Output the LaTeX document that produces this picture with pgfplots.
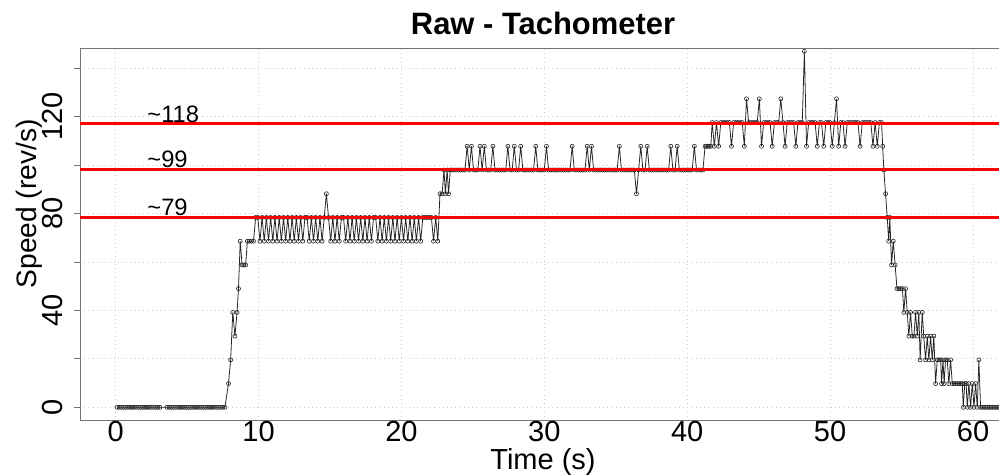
\documentclass[border=0pt]{standalone}
\usepackage{fontspec}
\setmainfont{Liberation Sans}
\usepackage{pgfplots}
\pgfplotsset{compat=1.18}
\newcommand{\fs}[1]{\fontsize{#1}{#1}\selectfont}
\begin{document}
\begin{tikzpicture}
\begin{axis}[
  scale only axis, width=19.088cm, height=7.448cm,
  xmin=-2.49, xmax=64.3, ymin=-5.53, ymax=148.26,
  axis line style={draw=black!55, line width=0.5pt},
  xtick={0,10,20,30,40,50,60}, xticklabels={0,10,20,30,40,50,60},
  ytick={0,20,40,60,80,100,120,140}, yticklabels={0,,40,,80,,120,},
  tick align=outside, major tick length=0.12cm,
  xtick style={draw=none}, ytick style={draw=black!55, line width=0.5pt},
  xtick pos=bottom, ytick pos=left,
  xticklabel style={font=\fs{16.5}, anchor=north, inner sep=0pt, yshift=0.11cm},
  yticklabel style={font=\fs{16.5}, rotate=90, anchor=south, inner sep=0pt, outer sep=0.22cm},
  grid=major, major grid style={dotted, black!20, line width=0.5pt},
  clip mode=individual,
  /pgf/number format/assume math mode=true,
]
\addplot[black!85, line width=0.45pt, mark=o, mark size=1.15pt, mark options={line width=0.35pt}] coordinates {
(0.1,0)(0.25,0)(0.4,0)(0.55,0)(0.7,0)(0.85,0)(1.0,0)(1.15,0)(1.3,0)(1.45,0)(1.6,0)(1.75,0)(1.9,0)(2.05,0)(2.2,0)(2.35,0)(2.5,0)(2.65,0)(2.8,0)(2.95,0)(3.1,0)
(3.6,0)(3.75,0)(3.9,0)(4.05,0)(4.2,0)(4.35,0)(4.5,0)(4.65,0)(4.8,0)(4.95,0)(5.1,0)(5.25,0)(5.4,0)(5.55,0)(5.7,0)(5.85,0)(6.0,0)(6.15,0)(6.3,0)(6.45,0)(6.6,0)(6.75,0)(6.9,0)(7.05,0)(7.2,0)(7.35,0)(7.5,0)(7.65,0)
(7.9,9.8)(8.05,19.6)(8.2,39.2)(8.35,29.4)(8.5,39.2)(8.6,49.0)(8.72,68.6)(8.85,58.8)(8.97,58.8)(9.1,58.8)(9.22,68.6)(9.35,68.6)(9.5,68.6)(9.65,68.6)(9.8,78.4)
(9.95,78.4)(10.1,68.6)(10.25,78.4)(10.4,68.6)(10.55,78.4)(10.7,68.6)(10.85,78.4)(11.0,68.6)(11.15,78.4)(11.3,68.6)(11.45,78.4)(11.6,68.6)(11.75,78.4)(11.9,68.6)(12.05,78.4)(12.2,68.6)(12.35,78.4)(12.5,68.6)(12.65,78.4)(12.8,68.6)(12.95,78.4)(13.1,68.6)(13.25,78.4)(13.4,78.4)(13.55,68.6)(13.7,78.4)(13.85,68.6)(14.0,78.4)(14.15,68.6)(14.3,78.4)(14.45,68.6)(14.6,78.4)(14.75,88.2)(14.9,78.4)(15.05,68.6)(15.2,78.4)(15.35,68.6)(15.5,78.4)(15.65,68.6)(15.8,78.4)(15.95,78.4)(16.1,68.6)(16.25,78.4)(16.4,68.6)(16.55,78.4)(16.7,68.6)(16.85,78.4)(17.0,68.6)(17.15,78.4)(17.3,68.6)(17.45,78.4)(17.6,68.6)(17.75,78.4)(17.9,68.6)(18.05,78.4)(18.2,78.4)(18.35,68.6)(18.5,78.4)(18.65,68.6)(18.8,78.4)(18.95,68.6)(19.1,78.4)(19.25,68.6)(19.4,78.4)(19.55,68.6)(19.7,78.4)(19.85,68.6)(20.0,78.4)(20.15,68.6)(20.3,78.4)(20.45,68.6)(20.6,78.4)(20.75,68.6)(20.9,78.4)(21.05,68.6)(21.2,78.4)(21.35,68.6)(21.5,78.4)(21.65,78.4)(21.8,78.4)(21.95,78.4)(22.1,78.4)(22.25,68.6)(22.4,78.4)(22.55,68.6)
(22.7,88.2)(22.85,88.2)(22.98,98.0)(23.08,88.2)(23.2,98.0)(23.3,88.2)(23.42,98.0)
(23.55,98)(23.7,98)(23.85,98)(24.0,98)(24.15,98)(24.3,98)(24.45,98)(24.6,107.8)(24.75,98)(24.9,107.8)(25.05,98)(25.2,98)(25.35,98)(25.5,107.8)(25.65,98)(25.8,107.8)(25.95,98)(26.1,98)(26.25,98)(26.4,107.8)(26.55,98)(26.7,98)(26.85,98)(27.0,98)(27.15,98)(27.3,98)(27.45,107.8)(27.6,98)(27.75,98)(27.9,107.8)(28.05,98)(28.2,98)(28.35,107.8)(28.5,98)(28.65,98)(28.8,98)(28.95,98)(29.1,98)(29.25,98)(29.4,107.8)(29.55,98)(29.7,98)(29.85,98)(30.0,98)(30.15,107.8)(30.3,98)(30.45,98)(30.6,98)(30.75,98)(30.9,98)(31.05,98)(31.2,98)(31.35,98)(31.5,98)(31.65,98)(31.8,98)(31.95,107.8)(32.1,98)(32.25,98)(32.4,98)(32.55,98)(32.7,98)(32.85,98)(33.0,107.8)(33.15,98)(33.3,107.8)(33.45,98)(33.6,98)(33.75,98)(33.9,98)(34.05,98)(34.2,98)(34.35,98)(34.5,98)(34.65,98)(34.8,98)(34.95,98)(35.1,98)(35.25,107.8)(35.4,98)(35.55,98)(35.7,98)(35.85,98)(36.0,98)(36.15,98)(36.3,98)(36.45,88.2)(36.6,98)(36.75,107.8)(36.9,98)(37.05,98)(37.2,107.8)(37.35,98)(37.5,98)(37.65,98)(37.8,98)(37.95,98)(38.1,98)(38.25,98)(38.4,98)(38.55,98)(38.7,98)(38.85,107.8)(39.0,98)(39.15,98)(39.3,107.8)(39.45,98)(39.6,98)(39.75,98)(39.9,98)(40.05,98)(40.2,98)(40.35,98)(40.5,107.8)(40.65,98)(40.8,98)(40.95,98)(41.1,98)
(41.25,107.8)(41.35,107.8)(41.45,107.8)(41.55,107.8)(41.65,107.8)
(41.75,117.6)(41.9,107.8)(42.05,117.6)(42.2,107.8)(42.35,117.6)(42.5,117.6)(42.65,117.6)(42.8,117.6)(42.95,117.6)(43.1,107.8)(43.25,117.6)(43.4,117.6)(43.55,117.6)(43.7,117.6)(43.85,117.6)(44.0,107.8)(44.15,127.4)(44.3,117.6)(44.45,117.6)(44.6,117.6)(44.75,117.6)(44.9,117.6)(45.05,127.4)(45.2,107.8)(45.35,117.6)(45.5,117.6)(45.65,117.6)(45.8,117.6)(45.95,107.8)(46.1,117.6)(46.25,117.6)(46.4,117.6)(46.55,127.4)(46.7,117.6)(46.85,107.8)(47.0,117.6)(47.15,117.6)(47.3,117.6)(47.45,117.6)(47.6,107.8)(47.75,117.6)(47.9,117.6)(48.05,117.6)(48.2,147.0)(48.35,107.8)(48.5,117.6)(48.65,117.6)(48.8,117.6)(48.95,117.6)(49.1,107.8)(49.25,117.6)(49.4,117.6)(49.55,107.8)(49.7,117.6)(49.85,117.6)(50.0,117.6)(50.15,107.8)(50.3,117.6)(50.45,127.4)(50.6,107.8)(50.75,117.6)(50.9,117.6)(51.05,107.8)(51.2,117.6)(51.35,117.6)(51.5,117.6)(51.65,117.6)(51.8,117.6)(51.95,117.6)(52.1,107.8)(52.25,117.6)(52.4,117.6)(52.55,117.6)(52.7,117.6)(52.85,117.6)(53.0,107.8)(53.15,117.6)(53.3,107.8)(53.45,117.6)(53.6,117.6)
(53.68,107.8)(53.76,98.0)(53.88,88.2)(54.0,78.4)(54.1,68.6)(54.18,78.4)(54.3,58.8)(54.42,68.6)(54.55,58.8)(54.68,49.0)(54.82,49.0)(54.94,49.0)(55.06,49.0)(55.16,39.2)(55.28,49.0)(55.4,39.2)(55.51,29.4)(55.63,39.2)(55.75,29.4)(55.87,29.4)(55.98,39.2)(56.1,29.4)(56.21,39.2)(56.3,19.6)(56.45,39.2)(56.55,29.4)(56.68,19.6)(56.8,29.4)(56.91,19.6)(57.03,29.4)(57.15,19.6)(57.26,29.4)(57.38,9.8)(57.5,19.6)(57.62,19.6)(57.74,19.6)(57.8,9.8)(57.9,19.6)(57.98,9.8)(58.08,19.6)(58.2,19.6)(58.31,9.8)(58.43,19.6)(58.55,9.8)(58.67,9.8)(58.79,9.8)(58.91,9.8)(59.03,9.8)(59.15,9.8)(59.25,9.8)(59.32,0)(59.42,9.8)(59.52,9.8)(59.6,0)(59.71,9.8)(59.83,0)(59.95,9.8)(60.07,0)(60.18,9.8)(60.3,0)(60.41,19.6)(60.53,0)(60.65,0)(60.77,0)(60.89,0)(61.01,0)(61.13,0)(61.25,0)(61.37,0)(61.49,0)(61.61,0)(61.73,0)(61.85,0)(61.97,0)
};
\addplot[red, line width=0.06cm] coordinates {(-5,117) (70,117)};
\addplot[red, line width=0.06cm] coordinates {(-5,98.3) (70,98.3)};
\addplot[red, line width=0.06cm] coordinates {(-5,78.5) (70,78.5)};
\node[font=\fs{13.5}, anchor=base west, inner sep=0pt] at (axis cs:2.2,117.7) {\char"007E{}118};
\node[font=\fs{13.5}, anchor=base west, inner sep=0pt] at (axis cs:2.2,99.0) {\char"007E{}99};
\node[font=\fs{13.5}, anchor=base west, inner sep=0pt] at (axis cs:2.2,79.2) {\char"007E{}79};
\node[font=\bfseries\fs{17.6}, anchor=base, inner sep=0pt] at (axis cs:29.91,153.76) {Raw - Tachometer};
\node[font=\fs{16.5}, anchor=base, inner sep=0pt] at (axis cs:29.91,-25.7) {Time (s)};
\node[font=\fs{16}, anchor=base, inner sep=0pt, rotate=90] at (axis cs:-5.57,84.0) {Speed (rev/s)};
\coordinate (bbsw) at (axis cs:-8.09,-27.96);
\coordinate (bbne) at (axis cs:61.82,168.21);
\end{axis}
\pgfresetboundingbox
\useasboundingbox (bbsw) rectangle (bbne);
\end{tikzpicture}
\end{document}
